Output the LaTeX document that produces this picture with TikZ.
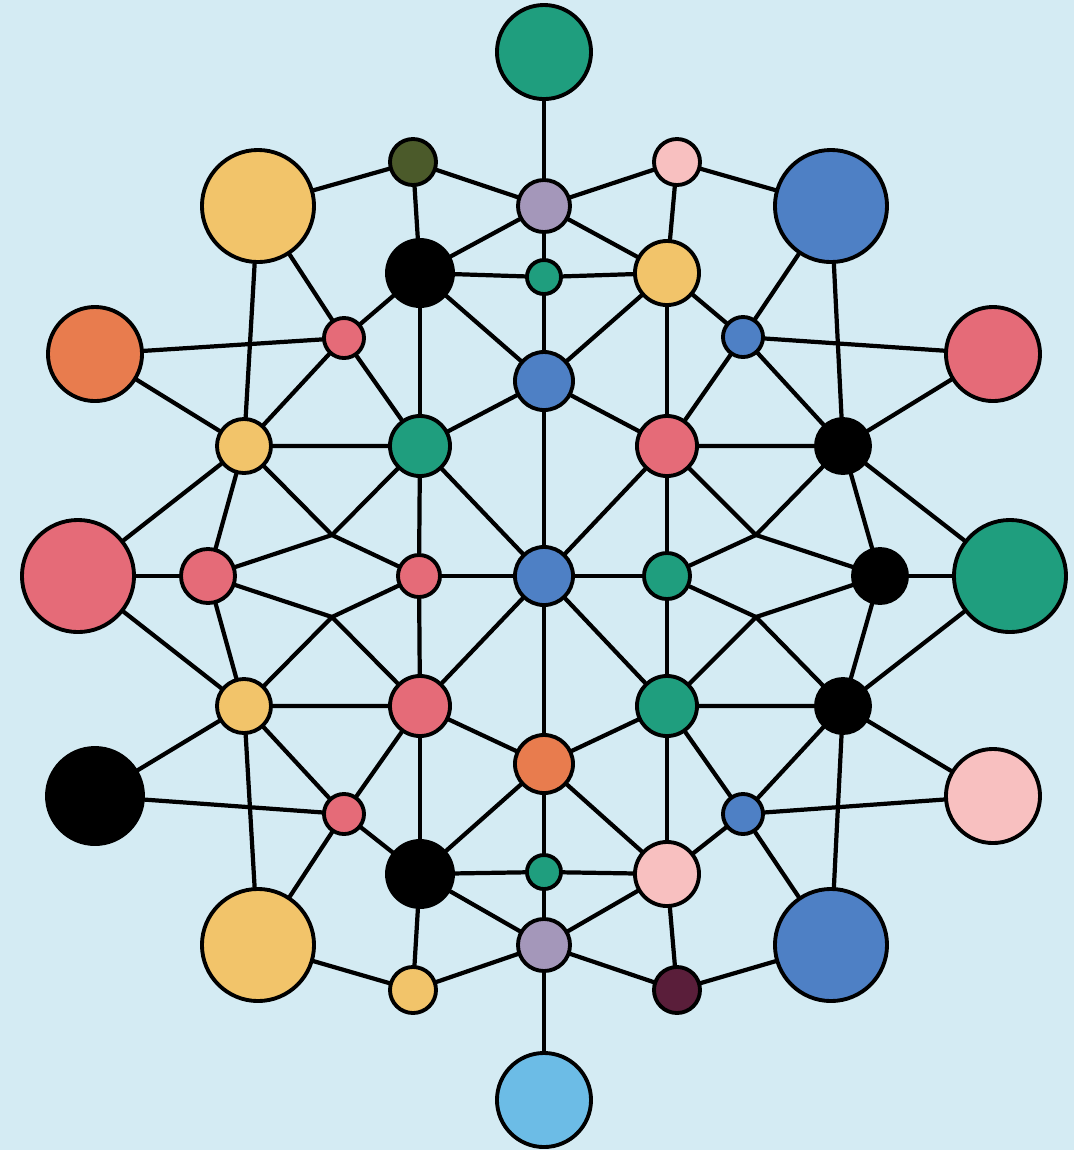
\documentclass[tikz,border=0pt]{standalone}
\usepackage{xcolor}
\usepackage{tikz}
\definecolor{nwbg}{RGB}{212,235,243}
\definecolor{nwgreen}{RGB}{31,158,126}
\definecolor{nwyellow}{RGB}{242,196,106}
\definecolor{nwblue}{RGB}{78,128,197}
\definecolor{nwred}{RGB}{229,107,120}
\definecolor{nworange}{RGB}{232,124,78}
\definecolor{nwpink}{RGB}{248,192,192}
\definecolor{nwlav}{RGB}{164,151,186}
\definecolor{nwolive}{RGB}{75,90,42}
\definecolor{nwmaroon}{RGB}{90,30,58}
\definecolor{nwsky}{RGB}{108,188,230}

\begin{document}
\begin{tikzpicture}[
  x=0.01cm, y=-0.01cm,
  vtx/.style={circle, draw=black, line width=1.1pt, inner sep=0pt,
              minimum size=#1},
  edge/.style={draw=black, line width=1.2pt, line join=round, line cap=round},
]

% Background
\fill[nwbg] (0,0) rectangle (1074,1150);

% Top half
\node[vtx=0.94cm, fill=nwgreen]  (tA)  at (544,52)  {};
\node[vtx=0.46cm, fill=nwolive]  (tOl) at (413,162) {};
\node[vtx=0.46cm, fill=nwpink]   (tPk) at (677,162) {};
\node[vtx=1.12cm, fill=nwyellow] (tYL) at (258,206) {};
\node[vtx=0.52cm, fill=nwlav]    (tLv) at (544,206) {};
\node[vtx=1.12cm, fill=nwblue]   (tBL) at (831,206) {};
\node[vtx=0.66cm, fill=black]    (tBk) at (420,273) {};
\node[vtx=0.34cm, fill=nwgreen]  (tGs) at (544,277) {};
\node[vtx=0.64cm, fill=nwyellow] (tYs) at (667,273) {};
\node[vtx=0.94cm, fill=nworange] (lOr) at (95,354)  {};
\node[vtx=0.40cm, fill=nwred]    (tRs) at (344,338) {};
\node[vtx=0.40cm, fill=nwblue]   (tBs) at (743,337) {};
\node[vtx=0.94cm, fill=nwred]    (rRd) at (993,354) {};
\node[vtx=0.58cm, fill=nwblue]   (cBu) at (544,381) {};
\node[vtx=0.54cm, fill=nwyellow] (lY1) at (244,446) {};
\node[vtx=0.60cm, fill=nwgreen]  (lG1) at (420,446) {};
\node[vtx=0.60cm, fill=nwred]    (rR1) at (667,446) {};
\node[vtx=0.54cm, fill=black]    (rK1) at (843,446) {};

% Middle row
\node[vtx=1.12cm, fill=nwred]    (lRb) at (78,576)   {};
\node[vtx=0.54cm, fill=nwred]    (lR2) at (208,576)  {};
\node[vtx=0.42cm, fill=nwred]    (lR3) at (419,576)  {};
\node[vtx=0.58cm, fill=nwblue]   (cC)  at (544,576)  {};
\node[vtx=0.46cm, fill=nwgreen]  (rG2) at (667,576)  {};
\node[vtx=0.54cm, fill=black]    (rK2) at (880,576)  {};
\node[vtx=1.12cm, fill=nwgreen]  (rGb) at (1010,576) {};

% Bottom half
\node[vtx=0.54cm, fill=nwyellow] (lY3) at (244,706)  {};
\node[vtx=0.60cm, fill=nwred]    (lR4) at (420,706)  {};
\node[vtx=0.60cm, fill=nwgreen]  (rG4) at (667,706)  {};
\node[vtx=0.54cm, fill=black]    (rK4) at (843,706)  {};
\node[vtx=0.58cm, fill=nworange] (cOr) at (544,764)  {};
\node[vtx=0.96cm, fill=black]    (lKb) at (95,796)   {};
\node[vtx=0.40cm, fill=nwred]    (bRs) at (344,814)  {};
\node[vtx=0.40cm, fill=nwblue]   (bBs) at (743,814)  {};
\node[vtx=0.94cm, fill=nwpink]   (rPk) at (993,796)  {};
\node[vtx=0.66cm, fill=black]    (bBk) at (420,874)  {};
\node[vtx=0.34cm, fill=nwgreen]  (bGs) at (544,872)  {};
\node[vtx=0.64cm, fill=nwpink]   (bPk) at (667,874)  {};
\node[vtx=1.12cm, fill=nwyellow] (bYL) at (258,945)  {};
\node[vtx=0.52cm, fill=nwlav]    (bLv) at (544,945)  {};
\node[vtx=1.12cm, fill=nwblue]   (bBL) at (831,945)  {};
\node[vtx=0.46cm, fill=nwyellow] (bYs) at (413,990)  {};
\node[vtx=0.46cm, fill=nwmaroon] (bMr) at (677,990)  {};
\node[vtx=0.94cm, fill=nwsky]    (bA)  at (544,1100) {};

% Crossing points of the bent links
\coordinate (jA) at (332,535);
\coordinate (jB) at (332,617);
\coordinate (jC) at (756,535);
\coordinate (jD) at (756,617);

% Spine
\draw[edge] (tA) -- (tLv) -- (tGs) -- (cBu) -- (cC) -- (cOr) -- (bGs) -- (bLv) -- (bA);

% Top links
\draw[edge] (tYL) -- (tOl) -- (tLv) -- (tPk) -- (tBL);
\draw[edge] (tOl) -- (tBk) -- (tLv) -- (tYs) -- (tPk);
\draw[edge] (tBk) -- (tGs) -- (tYs);
\draw[edge] (tBk) -- (tRs);  \draw[edge] (tBk) -- (lG1);  \draw[edge] (tBk) -- (cBu);
\draw[edge] (tYs) -- (tBs);  \draw[edge] (tYs) -- (rR1);  \draw[edge] (tYs) -- (cBu);
\draw[edge] (tYL) -- (tRs);  \draw[edge] (tYL) -- (lY1);
\draw[edge] (tBL) -- (tBs);  \draw[edge] (tBL) -- (rK1);
\draw[edge] (lOr) -- (tRs);  \draw[edge] (lOr) -- (lY1);
\draw[edge] (rRd) -- (tBs);  \draw[edge] (rRd) -- (rK1);
\draw[edge] (tRs) -- (lY1);  \draw[edge] (tRs) -- (lG1);
\draw[edge] (tBs) -- (rR1);  \draw[edge] (tBs) -- (rK1);
\draw[edge] (lY1) -- (lG1) -- (cBu) -- (rR1) -- (rK1);
\draw[edge] (lY1) -- (lRb);  \draw[edge] (lY1) -- (lR2);
\draw[edge] (rK1) -- (rGb);  \draw[edge] (rK1) -- (rK2);
\draw[edge] (lG1) -- (lR3);  \draw[edge] (lG1) -- (cC);
\draw[edge] (rR1) -- (rG2);  \draw[edge] (rR1) -- (cC);
\draw[edge] (lY1) -- (jA) -- (lR3);  \draw[edge] (lR2) -- (jA) -- (lG1);
\draw[edge] (rR1) -- (jC) -- (rK2);  \draw[edge] (rG2) -- (jC) -- (rK1);

% Middle row
\draw[edge] (lRb) -- (lR2);  \draw[edge] (lR3) -- (cC) -- (rG2);  \draw[edge] (rK2) -- (rGb);

% Bottom links
\draw[edge] (lR2) -- (jB) -- (lR4);  \draw[edge] (lR3) -- (jB) -- (lY3);
\draw[edge] (rG2) -- (jD) -- (rK4);  \draw[edge] (rK2) -- (jD) -- (rG4);
\draw[edge] (lR2) -- (lY3);  \draw[edge] (rK2) -- (rK4);
\draw[edge] (lR3) -- (lR4);  \draw[edge] (rG2) -- (rG4);
\draw[edge] (lRb) -- (lY3);  \draw[edge] (rGb) -- (rK4);
\draw[edge] (cC) -- (lR4);   \draw[edge] (cC) -- (rG4);
\draw[edge] (lY3) -- (lR4) -- (cOr) -- (rG4) -- (rK4);
\draw[edge] (lY3) -- (lKb);  \draw[edge] (rK4) -- (rPk);
\draw[edge] (lY3) -- (bRs);  \draw[edge] (lY3) -- (bYL);
\draw[edge] (rK4) -- (bBs);  \draw[edge] (rK4) -- (bBL);
\draw[edge] (lKb) -- (bRs);  \draw[edge] (rPk) -- (bBs);
\draw[edge] (lR4) -- (bRs);  \draw[edge] (lR4) -- (bBk);
\draw[edge] (rG4) -- (bBs);  \draw[edge] (rG4) -- (bPk);
\draw[edge] (cOr) -- (bBk);  \draw[edge] (cOr) -- (bPk);
\draw[edge] (bRs) -- (bBk);  \draw[edge] (bRs) -- (bYL);
\draw[edge] (bBs) -- (bPk);  \draw[edge] (bBs) -- (bBL);
\draw[edge] (bBk) -- (bGs) -- (bPk);
\draw[edge] (bYL) -- (bYs) -- (bLv) -- (bMr) -- (bBL);
\draw[edge] (bYs) -- (bBk) -- (bLv) -- (bPk) -- (bMr);

\end{tikzpicture}
\end{document}
